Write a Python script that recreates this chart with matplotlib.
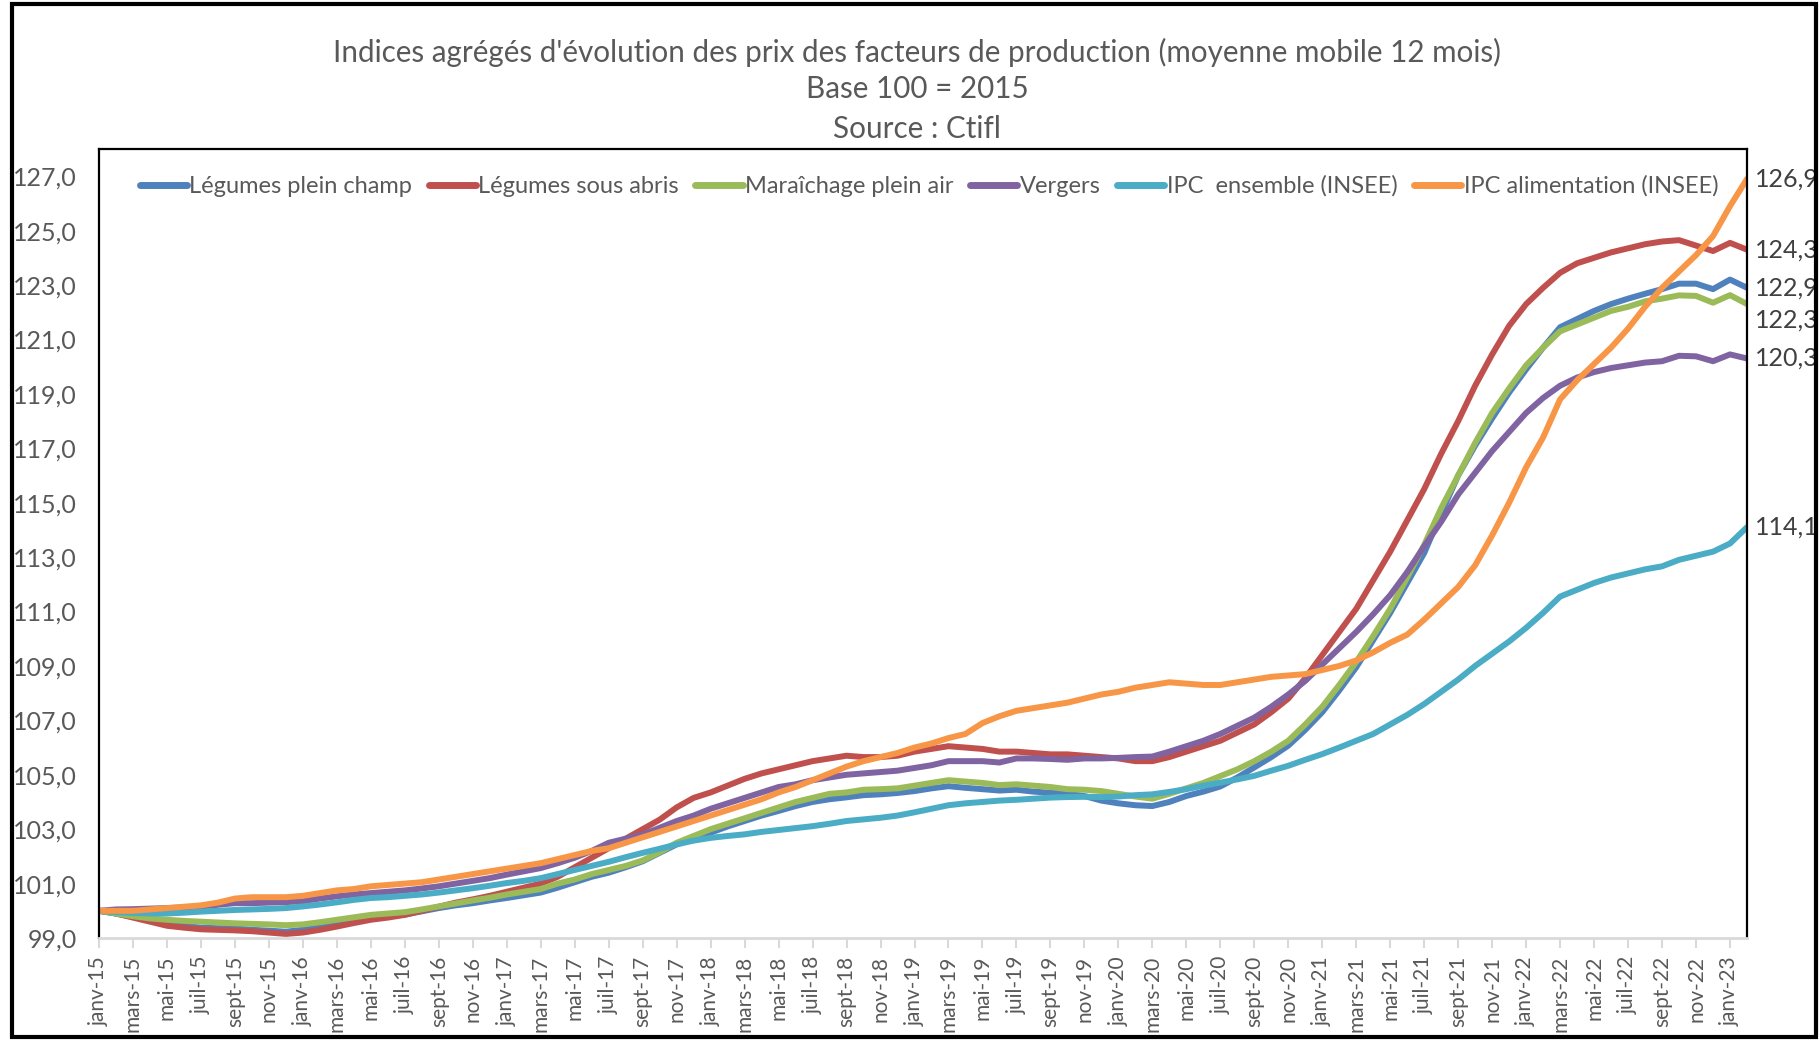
"""Indices agrégés d'évolution des prix des facteurs de production (Ctifl)."""

import matplotlib

matplotlib.use("Agg")
import matplotlib.pyplot as plt
from matplotlib.patches import Rectangle
from matplotlib.ticker import FuncFormatter

# --- data: monthly, janv-15 .. févr-23 (98 points) ---------------------------
MONTHS_FR = ["janv", "févr", "mars", "avr", "mai", "juin",
             "juil", "août", "sept", "oct", "nov", "déc"]
months = [f"{MONTHS_FR[i % 12]}-{15 + i // 12}" for i in range(98)]

legumes_plein_champ = [
    100.0, 99.9, 99.78, 99.65, 99.54, 99.45, 99.38, 99.36, 99.35, 99.3, 99.27, 99.23,
    99.3, 99.45, 99.57, 99.66, 99.73, 99.8, 99.86, 99.98, 100.1, 100.2, 100.28, 100.38,
    100.47, 100.57, 100.67, 100.85, 101.05, 101.25, 101.4, 101.6, 101.82, 102.13, 102.44, 102.65,
    102.87, 103.1, 103.3, 103.5, 103.67, 103.85, 104.0, 104.1, 104.17, 104.25, 104.28, 104.33,
    104.4, 104.5, 104.58, 104.52, 104.47, 104.42, 104.45, 104.38, 104.34, 104.3, 104.22, 104.05,
    103.95, 103.88, 103.85, 104.0, 104.22, 104.38, 104.57, 104.9, 105.27, 105.65, 106.07, 106.65,
    107.3, 108.1, 108.95, 109.95, 110.95, 112.05, 113.15, 114.6, 116.0, 117.1, 118.1, 119.05,
    119.9, 120.7, 121.45, 121.75, 122.05, 122.3, 122.5, 122.68, 122.85, 123.05, 123.05, 122.85,
    123.2, 122.9,
]
legumes_sous_abris = [
    100.0, 99.9, 99.75, 99.6, 99.45, 99.38, 99.32, 99.3, 99.28, 99.25, 99.2, 99.15,
    99.2, 99.3, 99.42, 99.55, 99.67, 99.75, 99.85, 100.0, 100.15, 100.3, 100.42, 100.55,
    100.7, 100.85, 101.0, 101.25, 101.6, 101.95, 102.3, 102.65, 103.0, 103.35, 103.8, 104.15,
    104.35, 104.6, 104.85, 105.05, 105.2, 105.35, 105.5, 105.6, 105.7, 105.65, 105.65, 105.7,
    105.85, 105.95, 106.05, 106.0, 105.95, 105.85, 105.85, 105.8, 105.75, 105.75, 105.7, 105.65,
    105.6, 105.5, 105.5, 105.65, 105.85, 106.05, 106.25, 106.55, 106.85, 107.3, 107.8, 108.55,
    109.4, 110.25, 111.1, 112.15, 113.2, 114.35, 115.5, 116.8, 118.0, 119.3, 120.45, 121.5,
    122.3, 122.9, 123.45, 123.8, 124.0, 124.2, 124.35, 124.5, 124.6, 124.65, 124.45, 124.25,
    124.55, 124.3,
]
maraichage_plein_air = [
    100.0, 99.9, 99.8, 99.72, 99.67, 99.63, 99.6, 99.57, 99.54, 99.52, 99.5, 99.47,
    99.5, 99.58, 99.67, 99.76, 99.85, 99.9, 99.95, 100.05, 100.16, 100.27, 100.38, 100.48,
    100.6, 100.7, 100.8, 101.0, 101.15, 101.35, 101.5, 101.65, 101.85, 102.15, 102.5, 102.75,
    103.0, 103.2, 103.4, 103.6, 103.8, 104.0, 104.15, 104.3, 104.35, 104.45, 104.47, 104.5,
    104.6, 104.7, 104.8, 104.75, 104.7, 104.62, 104.65, 104.6, 104.55, 104.47, 104.45, 104.4,
    104.3, 104.2, 104.12, 104.3, 104.5, 104.7, 104.95, 105.2, 105.5, 105.85, 106.25, 106.85,
    107.5, 108.3, 109.15, 110.1, 111.1, 112.25, 113.45, 114.8, 116.0, 117.2, 118.3, 119.2,
    120.05, 120.7, 121.3, 121.55, 121.8, 122.05, 122.2, 122.4, 122.5, 122.62, 122.6, 122.35,
    122.63, 122.3,
]
vergers = [
    100.0, 100.05, 100.06, 100.08, 100.1, 100.12, 100.16, 100.22, 100.28, 100.28, 100.3, 100.32,
    100.35, 100.45, 100.53, 100.6, 100.65, 100.7, 100.75, 100.82, 100.9, 101.0, 101.1, 101.2,
    101.33, 101.45, 101.57, 101.75, 101.95, 102.2, 102.5, 102.65, 102.8, 103.05, 103.3, 103.5,
    103.75, 103.95, 104.15, 104.35, 104.55, 104.65, 104.8, 104.9, 105.0, 105.05, 105.1, 105.15,
    105.25, 105.35, 105.5, 105.5, 105.5, 105.45, 105.6, 105.6, 105.58, 105.55, 105.6, 105.6,
    105.62, 105.65, 105.67, 105.85, 106.05, 106.25, 106.5, 106.8, 107.1, 107.5, 107.95, 108.45,
    109.05, 109.65, 110.25, 110.9, 111.6, 112.45, 113.4, 114.3, 115.3, 116.1, 116.9, 117.6,
    118.3, 118.85, 119.3, 119.6, 119.8, 119.95, 120.05, 120.15, 120.2, 120.4, 120.38, 120.2,
    120.45, 120.3,
]
ipc_ensemble = [
    100.0, 99.95, 99.92, 99.9, 99.9, 99.93, 99.97, 100.0, 100.03, 100.05, 100.07, 100.1,
    100.16, 100.23, 100.31, 100.4, 100.47, 100.5, 100.55, 100.6, 100.67, 100.75, 100.83, 100.92,
    101.02, 101.1, 101.2, 101.35, 101.5, 101.65, 101.8, 101.97, 102.13, 102.28, 102.44, 102.58,
    102.68, 102.75, 102.81, 102.9, 102.97, 103.04, 103.11, 103.2, 103.3, 103.36, 103.42, 103.5,
    103.62, 103.75, 103.88, 103.95, 104.0, 104.05, 104.08, 104.12, 104.16, 104.18, 104.19, 104.18,
    104.2, 104.25, 104.28, 104.37, 104.47, 104.6, 104.71, 104.83, 104.96, 105.15, 105.33, 105.55,
    105.76, 106.0, 106.25, 106.5, 106.85, 107.2, 107.6, 108.05, 108.5, 109.0, 109.45, 109.9,
    110.4, 110.95, 111.55, 111.8, 112.05, 112.25, 112.4, 112.55, 112.66, 112.9, 113.05, 113.2,
    113.5, 114.1,
]
ipc_alimentation = [
    100.0, 100.0, 100.0, 100.05, 100.1, 100.15, 100.2, 100.3, 100.45, 100.5, 100.5, 100.5,
    100.55, 100.65, 100.75, 100.8, 100.9, 100.95, 101.0, 101.05, 101.15, 101.25, 101.35, 101.45,
    101.55, 101.65, 101.75, 101.9, 102.05, 102.2, 102.3, 102.5, 102.7, 102.9, 103.1, 103.3,
    103.5, 103.7, 103.9, 104.1, 104.35, 104.55, 104.8, 105.05, 105.3, 105.5, 105.65, 105.8,
    106.0, 106.15, 106.35, 106.5, 106.9, 107.15, 107.35, 107.45, 107.55, 107.65, 107.8, 107.95,
    108.05, 108.2, 108.3, 108.4, 108.35, 108.3, 108.3, 108.4, 108.5, 108.6, 108.65, 108.7,
    108.85, 109.0, 109.2, 109.5, 109.85, 110.15, 110.7, 111.3, 111.9, 112.7, 113.8, 115.0,
    116.3, 117.4, 118.8, 119.5, 120.1, 120.7, 121.4, 122.2, 122.9, 123.5, 124.1, 124.8,
    125.9, 126.9,
]

series_names = [
    "Légumes plein champ",
    "Légumes sous abris",
    "Maraîchage plein air",
    "Vergers",
    "IPC  ensemble (INSEE)",
    "IPC alimentation (INSEE)",
]
series_values = [
    legumes_plein_champ,
    legumes_sous_abris,
    maraichage_plein_air,
    vergers,
    ipc_ensemble,
    ipc_alimentation,
]
colors = ["#4F81BD", "#C0504D", "#9BBB59", "#8064A2", "#4BACC6", "#F79646"]

# final-value labels on the right (one nudged down to avoid overlapping)
label_nudge = {"Maraîchage plein air": -0.6}


def main() -> None:
    plt.rcParams.update({"font.family": ["Lato", "DejaVu Sans"]})
    grey = "#595959"

    fig = plt.figure(figsize=(18.2, 10.4), dpi=100)
    ax = fig.add_axes([99 / 1820, 1 - 938 / 1040, 1648 / 1820, 789 / 1040])

    x = list(range(len(months)))
    handles = []
    for name, vals, col in zip(series_names, series_values, colors):
        (ln,) = ax.plot(x, vals, color=col, lw=4.3, solid_joinstyle="round",
                        solid_capstyle="round", label=name)
        handles.append(ln)

    ax.set_xlim(0, len(months) - 1)
    ax.set_ylim(99, 128)
    ax.set_yticks(range(99, 128, 2))
    ax.yaxis.set_major_formatter(FuncFormatter(lambda v, _: f"{v:.1f}".replace(".", ",")))
    ax.set_xticks(x[::2])
    ax.set_xticklabels(months[::2], rotation=90)

    ax.tick_params(axis="y", length=0, pad=16, labelsize=18, labelcolor=grey)
    ax.tick_params(axis="x", length=7, width=1.5, color="#d9d9d9", pad=6,
                   labelsize=15, labelcolor=grey)
    for side in ("left", "top", "right"):
        ax.spines[side].set_color("black")
        ax.spines[side].set_linewidth(1.6)
    ax.spines["bottom"].set_color("#d9d9d9")
    ax.spines["bottom"].set_linewidth(2)

    leg = ax.legend(
        handles=handles,
        ncol=6,
        loc="center left",
        bbox_to_anchor=(0.019, 0.953),
        frameon=False,
        fontsize=17,
        handlelength=2.0,
        handletextpad=0.1,
        columnspacing=0.7,
        borderaxespad=0,
    )
    for txt in leg.get_texts():
        txt.set_color(grey)
    for h in leg.legend_handles:
        h.set_linewidth(5)
        h.set_solid_capstyle("round")

    for name, vals in zip(series_names, series_values):
        last = vals[-1]
        ax.annotate(
            f"{last:.1f}".replace(".", ","),
            xy=(1, last + label_nudge.get(name, 0.0)),
            xycoords=("axes fraction", "data"),
            xytext=(6, 0),
            textcoords="offset points",
            ha="left",
            va="center",
            fontsize=18,
            color="#404040",
        )

    title_lines = [
        "Indices agrégés d'évolution des prix des facteurs de production (moyenne mobile 12 mois)",
        "Base 100 = 2015",
        "Source : Ctifl",
    ]
    for ypix, line in zip([52, 89, 129], title_lines):
        fig.text(0.504, 1 - ypix / 1040, line, ha="center", va="center",
                 fontsize=21.3, color=grey)

    fig.add_artist(Rectangle((12 / 1820, 3 / 1040), 1804 / 1820, 1033 / 1040,
                             transform=fig.transFigure, fill=False, lw=3, ec="black"))

    fig.savefig("out.png", dpi=100)
    plt.close(fig)


if __name__ == "__main__":
    main()
